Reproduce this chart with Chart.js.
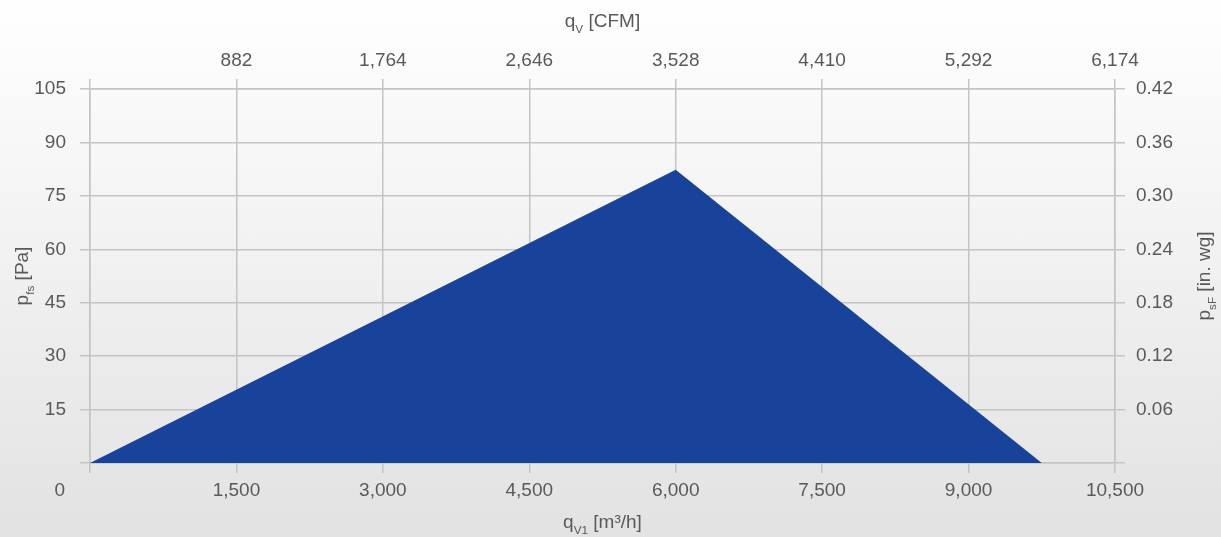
<!DOCTYPE html>
<html>
<head>
<meta charset="utf-8">
<script src="https://cdn.jsdelivr.net/npm/chart.js@4"></script>
<style>
  html, body { margin: 0; padding: 0; }
  body { width: 1221px; height: 537px; overflow: hidden;
         background: linear-gradient(to bottom, #ffffff 0%, #e2e2e2 100%); }
  #wrap { position: relative; width: 1221px; height: 537px; }
</style>
</head>
<body>
<div id="wrap"><canvas id="c"></canvas></div>
<script>
// ---- data ----
const flowM3h = [0, 6000, 9750];          // q_V1 [m³/h]
const pressurePa = [0, 82.3, 0];          // p_fs [Pa]

const xTicks = [0, 1500, 3000, 4500, 6000, 7500, 9000, 10500];
const xTickLabels = ['', '1,500', '3,000', '4,500', '6,000', '7,500', '9,000', '10,500'];
const cfmTickLabels = ['', '882', '1,764', '2,646', '3,528', '4,410', '5,292', '6,174'];
const yTicks = [0, 15, 30, 45, 60, 75, 90, 105];
const yTickLabels = ['', '15', '30', '45', '60', '75', '90', '105'];
const inwgTicks = [0, 0.06, 0.12, 0.18, 0.24, 0.30, 0.36, 0.42];
const inwgTickLabels = ['', '0.06', '0.12', '0.18', '0.24', '0.30', '0.36', '0.42'];

const FONT = '"Liberation Sans", Arial, Helvetica, sans-serif';
const FS = 19;
const TXT = '#595959';
const GRID = '#c4c4c4';
const GW = 1.5;

function labelFor(arr, labels, v) {
  const i = arr.findIndex(t => Math.abs(t - v) < 1e-6);
  return i >= 0 ? labels[i] : '';
}

function drawRich(ctx, parts, x, y, size, rot) {
  ctx.save();
  ctx.translate(x, y);
  if (rot) ctx.rotate(rot);
  ctx.fillStyle = TXT;
  ctx.textBaseline = 'alphabetic';
  ctx.textAlign = 'left';
  let total = 0;
  const widths = parts.map(p => {
    ctx.font = (p.sub ? size * 0.62 : size) + 'px ' + FONT;
    const w = ctx.measureText(p.t).width;
    total += w;
    return w;
  });
  let cx = -total / 2;
  const base = size * 0.36;
  parts.forEach((p, i) => {
    ctx.font = (p.sub ? size * 0.62 : size) + 'px ' + FONT;
    ctx.fillText(p.t, cx, base + (p.sub ? size * 0.3 : 0));
    cx += widths[i];
  });
  ctx.restore();
}

const titlesPlugin = {
  id: 'titles',
  afterDraw(chart) {
    const ctx = chart.ctx;
    const a = chart.chartArea;
    const midX = (a.left + a.right) / 2;
    const midY = (a.top + a.bottom) / 2;
    drawRich(ctx, [{t: 'q'}, {t: 'V', sub: true}, {t: ' [CFM]'}], midX, 20, FS, 0);
    drawRich(ctx, [{t: 'q'}, {t: 'V1', sub: true}, {t: ' [m³/h]'}], midX, 521, FS, 0);
    drawRich(ctx, [{t: 'p'}, {t: 'fs', sub: true}, {t: ' [Pa]'}], 21, midY, FS, -Math.PI / 2);
    drawRich(ctx, [{t: 'p'}, {t: 'sF', sub: true}, {t: ' [in. wg]'}], 1203, midY, FS, -Math.PI / 2);
    // shared origin label
    ctx.save();
    ctx.font = FS + 'px ' + FONT;
    ctx.fillStyle = TXT;
    ctx.textAlign = 'right';
    ctx.textBaseline = 'middle';
    ctx.fillText('0', a.left - 25, a.bottom + 28);
    ctx.restore();
  }
};

const ctx = document.getElementById('c').getContext('2d');
new Chart(ctx, {
  type: 'line',
  data: {
    datasets: [{
      data: flowM3h.map((x, i) => ({x: x, y: pressurePa[i]})),
      fill: 'origin',
      backgroundColor: '#19439a',
      borderWidth: 0,
      borderColor: 'rgba(0,0,0,0)',
      pointRadius: 0,
      tension: 0,
      xAxisID: 'x',
      yAxisID: 'y'
    }]
  },
  options: {
    responsive: true,
    maintainAspectRatio: false,
    animation: false,
    layout: { padding: 0 },
    plugins: { legend: { display: false }, tooltip: { enabled: false } },
    scales: {
      x: {
        type: 'linear', position: 'bottom', min: 0, max: 10500,
        afterBuildTicks: s => { s.ticks = xTicks.map(v => ({value: v})); },
        afterFit: s => { s.height = 74; },
        ticks: { callback: v => labelFor(xTicks, xTickLabels, v), color: TXT,
                 font: { size: FS, family: FONT }, padding: 6, maxRotation: 0, autoSkip: false },
        grid: { color: GRID, tickColor: GRID, tickLength: 10, lineWidth: GW, tickWidth: GW },
        border: { color: GRID, width: GW }
      },
      x2: {
        type: 'linear', position: 'top', min: 0, max: 10500,
        afterBuildTicks: s => { s.ticks = xTicks.map(v => ({value: v})); },
        afterFit: s => { s.height = 89; },
        ticks: { callback: v => labelFor(xTicks, cfmTickLabels, v), color: TXT,
                 font: { size: FS, family: FONT }, padding: 7, maxRotation: 0, autoSkip: false },
        grid: { drawOnChartArea: false, color: GRID, tickColor: GRID, tickLength: 10, lineWidth: GW, tickWidth: GW },
        border: { color: GRID, width: GW }
      },
      y: {
        type: 'linear', position: 'left', min: 0, max: 105,
        afterBuildTicks: s => { s.ticks = yTicks.map(v => ({value: v})); },
        afterFit: s => { s.width = 90; },
        ticks: { callback: v => labelFor(yTicks, yTickLabels, v), color: TXT,
                 font: { size: FS, family: FONT }, padding: 14 },
        grid: { color: GRID, tickColor: GRID, tickLength: 10, lineWidth: GW, tickWidth: GW },
        border: { color: GRID, width: GW }
      },
      y2: {
        type: 'linear', position: 'right', min: 0, max: 0.42,
        afterBuildTicks: s => { s.ticks = inwgTicks.map(v => ({value: v})); },
        afterFit: s => { s.width = 106; },
        ticks: { callback: v => labelFor(inwgTicks, inwgTickLabels, v), color: TXT,
                 font: { size: FS, family: FONT }, padding: 11 },
        grid: { drawOnChartArea: false, color: GRID, tickColor: GRID, tickLength: 10, lineWidth: GW, tickWidth: GW },
        border: { color: GRID, width: GW }
      }
    }
  },
  plugins: [titlesPlugin]
});
</script>
</body>
</html>
